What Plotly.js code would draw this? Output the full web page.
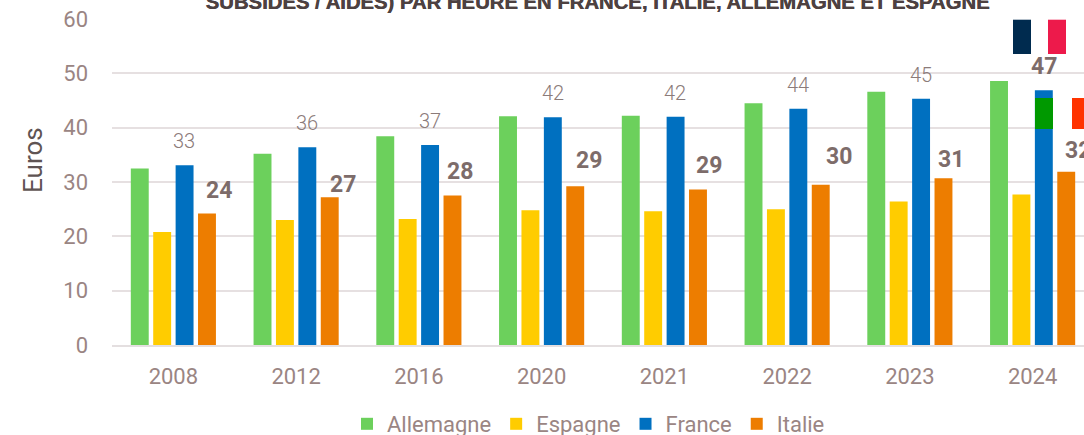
<!DOCTYPE html>
<html><head><meta charset="utf-8">
<script src="https://cdn.plot.ly/plotly-3.0.1.min.js"></script>
<style>html,body{margin:0;padding:0;background:#fff;overflow:hidden;width:1084px;height:435px}</style>
</head><body><div id="chart"></div>
<script>
const years = ['2008','2012','2016','2020','2021','2022','2023','2024'];
const allemagne = [32.5,35.2,38.4,42.1,42.2,44.5,46.6,48.6];
const espagne = [20.8,23.0,23.2,24.8,24.6,25.0,26.4,27.7];
const france = [33.1,36.4,36.8,41.9,42.0,43.5,45.3,46.9];
const italie = [24.2,27.2,27.5,29.2,28.6,29.5,30.7,31.9];
const franceLabels = ['33','36','37','42','42','44','45','47'];
const italieLabels = ['24','27','28','29','29','30','31','32'];
const italieDx = [46,47,41,47,45,52,41,45];
const italieDy = [23,13,24,26,24,28,19,21];
const titleText = 'SUBSIDES / AIDES) PAR HEURE EN FRANCE, ITALIE, ALLEMAGNE ET ESPAGNE';

const W=1094, H=435, L=112, T=19, B=90;
const body='Roboto, sans-serif', grey='#9a8583', dark='#7d6c6a';
const px=(x)=>(x-L)/(W-L), py=(y)=>1-(y-T)/(H-T-B);
const rect=(x0,x1,y0,y1,c)=>({type:'rect',xref:'paper',yref:'paper',x0:px(x0),x1:px(x1),y0:py(y1),y1:py(y0),fillcolor:c,line:{width:0},layer:'above'});
const bar=(name,y,color)=>({type:'bar',name,x:years,y,marker:{color},hoverinfo:'x+y'});

const anns=[];
years.forEach((yr,i)=>{
  anns.push({x:i,y:france[i],xref:'x',yref:'y',text:franceLabels[i],showarrow:false,xshift:11,yshift:24,
    font:{family:body,size:i===7?23:20,color:i===7?dark:'#8b7b79',weight:i===7?700:300},yanchor:'middle'});
  anns.push({x:i,y:italie[i],xref:'x',yref:'y',text:italieLabels[i],showarrow:false,xshift:italieDx[i],yshift:italieDy[i],
    font:{family:body,size:23,color:dark,weight:700},yanchor:'middle'});
});
anns.push({xref:'paper',yref:'paper',x:px(33),y:py(160),text:'Euros',textangle:-90,showarrow:false,xanchor:'center',yanchor:'middle',
  font:{family:body,size:26,color:'#5f5453'}});

Plotly.newPlot('chart',[
  bar('Allemagne',allemagne,'#6CD05C'),
  bar('Espagne',espagne,'#FFCC00'),
  bar('France',france,'#0070C0'),
  bar('Italie',italie,'#ED7D00')
],{
  width:W,height:H,paper_bgcolor:'#fff',plot_bgcolor:'#fff',
  margin:{l:L,r:W-L-982,t:T,b:B,pad:0,autoexpand:false},
  barmode:'group',bargap:0.27,bargroupgap:0.2,
  title:{text:titleText,x:597.5/W,xanchor:'center',y:0.995,yref:'container',yanchor:'middle',automargin:false,
    font:{family:'"Liberation Sans", sans-serif',size:20.3,weight:700,color:'#4d4141',shadow:'0.5px 0 0 #4d4141'}},
  xaxis:{type:'category',range:[-0.5,7.5],tickfont:{family:body,size:22,color:grey},ticks:'',showgrid:false,automargin:false,
    showline:true,linecolor:'#e4dfe0',linewidth:2,ticklabelstandoff:11},
  yaxis:{range:[0,60],dtick:10,tickfont:{family:body,size:22,color:grey},gridcolor:'#e6e0e1',gridwidth:2,zeroline:false,ticks:'',automargin:false,
    ticklabelstandoff:23},
  legend:{orientation:'h',x:px(347),xanchor:'left',y:py(403),yanchor:'top',font:{family:body,size:22,color:grey},itemwidth:30,tracegroupgap:0},
  annotations:anns,
  shapes:[
    rect(1013,1031,19.7,54,'#002B4F'),rect(1031,1048,19.7,54,'#ffffff'),rect(1048,1066,19.7,54,'#ED1A4B'),
    rect(1035,1053,98,129,'#009900'),rect(1053,1072,98,129,'#ffffff'),rect(1072,1090,98,129,'#FF3300')
  ]
},{displayModeBar:false,staticPlot:true});
</script></body></html>
